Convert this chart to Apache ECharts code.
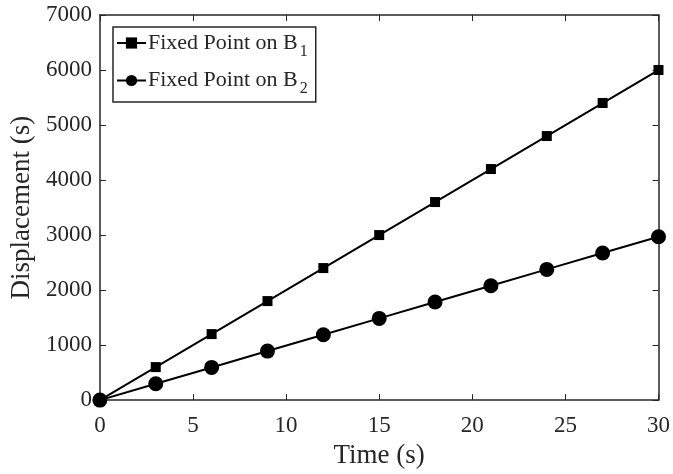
<!DOCTYPE html>
<html><head><meta charset="utf-8">
<script src="https://cdn.jsdelivr.net/npm/echarts@6/dist/echarts.min.js"></script>
<style>html,body{margin:0;padding:0;background:#fff}#c{width:673px;height:474px}</style>
</head><body><div id="c"></div>
<script>
var time = [0, 3, 6, 9, 12, 15, 18, 21, 24, 27, 30];
var b1 = [0, 600, 1200, 1800, 2400, 3000, 3600, 4200, 4800, 5400, 6000];
var b2 = [0, 297, 594, 891, 1188, 1485, 1782, 2079, 2376, 2673, 2970];
var names = ['Fixed Point on B{s|1}', 'Fixed Point on B{s|2}'];
var F = 'Liberation Serif';
var chart = echarts.init(document.getElementById('c'));
function pairs(ys){ return time.map(function(t,i){return [t, ys[i]];}); }
var axisLine = {show:true, onZero:false, lineStyle:{color:'#262626', width:1.5}};
var tick = {show:true, inside:true, length:6, lineStyle:{color:'#262626'}};
chart.setOption({
  animation:false,
  grid:{left:99, right:14, top:15, bottom:71},
  legend:{
    left:113, top:27, orient:'vertical', itemWidth:29, itemHeight:14, itemGap:10,
    padding:[5,8,5,3], borderColor:'#262626', borderWidth:1.5, backgroundColor:'#fff',
    textStyle:{fontFamily:F, fontSize:22, color:'#262626', padding:[0,0,0,-3],
      rich:{s:{fontFamily:F, fontSize:16, color:'#262626', padding:[17,0,0,2]}}},
    data:[names[0], names[1]]
  },
  xAxis:[{
    type:'value', min:0, max:30, interval:5,
    name:'Time (s)', nameLocation:'middle', nameGap:39,
    nameTextStyle:{fontFamily:F, fontSize:27, color:'#262626'},
    axisLine:axisLine, axisTick:tick,
    axisLabel:{fontFamily:F, fontSize:23, color:'#262626', margin:14},
    splitLine:{show:false}
  },{
    type:'value', position:'top', min:0, max:30, interval:5,
    axisLine:axisLine, axisTick:tick,
    axisLabel:{show:false}, splitLine:{show:false}
  }],
  yAxis:[{
    type:'value', min:0, max:7000, interval:1000,
    name:'Displacement (s)', nameLocation:'middle', nameGap:62,
    nameTextStyle:{fontFamily:F, fontSize:27, color:'#262626'},
    axisLine:axisLine, axisTick:tick,
    axisLabel:{fontFamily:F, fontSize:23, color:'#262626', margin:8,
      formatter:function(v){return String(v);}},
    splitLine:{show:false}
  },{
    type:'value', position:'right', min:0, max:7000, interval:1000,
    axisLine:axisLine, axisTick:tick,
    axisLabel:{show:false}, splitLine:{show:false}
  }],
  series:[{
    name:names[0], type:'line', data:pairs(b1), symbol:'rect', symbolSize:10,
    lineStyle:{color:'#000', width:2}, itemStyle:{color:'#000'}
  },{
    name:names[1], type:'line', data:pairs(b2), symbol:'circle', symbolSize:15,
    lineStyle:{color:'#000', width:2}, itemStyle:{color:'#000'}
  }]
});
</script></body></html>
